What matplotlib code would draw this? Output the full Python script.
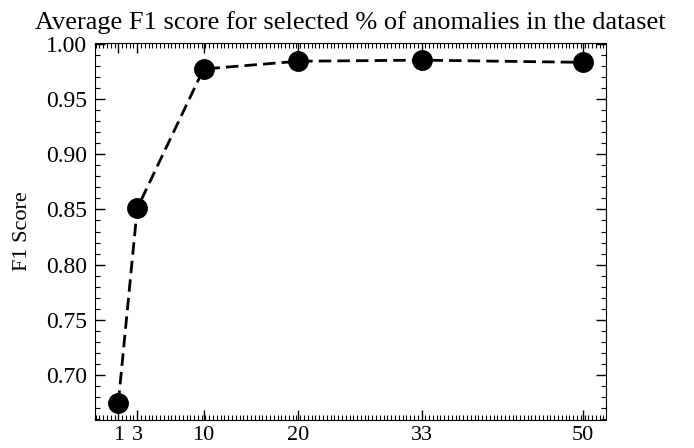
import matplotlib
matplotlib.use("Agg")
from matplotlib import pyplot as plt
from matplotlib.ticker import AutoMinorLocator

# percentage of anomalies in dataset and average F1
percent = [1, 3, 10, 20, 33, 50]
f1 = [0.675, 0.851, 0.977, 0.984, 0.985, 0.983]

plt.rcParams['font.family'] = ['Liberation Serif', 'DejaVu Serif']
plt.rcParams['mathtext.fontset'] = 'stix'

fig = plt.figure(figsize=(6.94, 4.48), dpi=100)
ax = fig.add_axes([0.137, 0.0625, 0.736, 0.8415])

ax.plot(percent, f1, 'k--', marker='o', markersize=14, linewidth=2, dashes=(4.5, 2.2))

ax.set_title("Average F1 score for selected % of anomalies in the dataset", fontsize=19, pad=10)
ax.set_ylabel("F1 Score", fontsize=16, labelpad=10)
ax.set_xticks(percent)
ax.xaxis.set_minor_locator(AutoMinorLocator(5))
ax.yaxis.set_minor_locator(AutoMinorLocator(5))
ax.tick_params(axis='both', which='both', direction='in', top=True, right=True, labelsize=17)
ax.tick_params(which='major', length=7, width=1)
ax.tick_params(which='minor', length=3.5, width=0.8)
ax.tick_params(axis='x', labelsize=16, pad=4)
ax.tick_params(axis='y', pad=6)

fig.savefig("out.png", dpi=100)
